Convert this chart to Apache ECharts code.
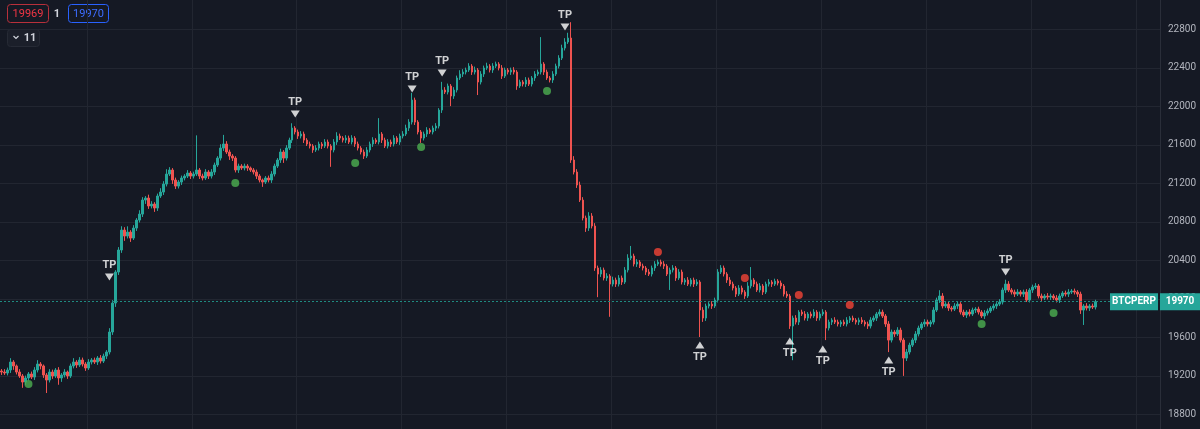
<!DOCTYPE html>
<html>
<head>
<meta charset="utf-8">
<title>BTCPERP</title>
<script src="https://cdn.jsdelivr.net/npm/echarts@6.0.0/dist/echarts.min.js"></script>
<style>
  html, body { margin: 0; padding: 0; background: #151924; }
  #chart { width: 1200px; height: 429px; }
</style>
</head>
<body>
<div id="chart"></div>
<script>
// candle closes, left to right (open = previous close)
const firstOpen = 19250
const closes = [
  19239,19229,19260,19343,19302,19239,19198,19135,19177,19219,
  19187,19260,19322,19302,19208,19156,19239,19198,19260,19177,
  19208,19239,19198,19302,19343,19312,19364,19322,19281,19343,
  19364,19343,19385,19353,19405,19447,19655,19956,20278,20507,
  20714,20652,20693,20631,20735,20818,20880,21026,21047,20964,
  20984,20943,21068,21109,21192,21296,21338,21234,21171,21213,
  21255,21275,21307,21275,21296,21338,21275,21255,21317,21275,
  21317,21390,21462,21566,21608,21525,21483,21462,21338,21379,
  21359,21379,21359,21338,21317,21275,21234,21213,21255,21234,
  21296,21379,21442,21525,21462,21566,21649,21774,21733,21691,
  21712,21649,21608,21587,21546,21566,21608,21587,21629,21587,
  21546,21629,21691,21670,21649,21670,21629,21670,21608,21566,
  21525,21483,21546,21608,21649,21629,21712,21649,21587,21629,
  21608,21670,21629,21691,21712,21774,21836,22065,21836,21733,
  21670,21712,21753,21733,21774,21795,21961,22169,22148,22211,
  22107,22169,22294,22335,22356,22377,22418,22356,22377,22252,
  22335,22398,22418,22377,22418,22439,22398,22314,22377,22356,
  22377,22356,22211,22252,22231,22273,22231,22294,22335,22356,
  22439,22356,22294,22273,22335,22418,22501,22605,22668,22709,
  21442,21317,21182,21026,20839,20735,20860,20756,20320,20257,
  20299,20216,20236,20153,20195,20153,20216,20174,20299,20423,
  20444,20361,20382,20340,20320,20278,20257,20320,20361,20382,
  20361,20340,20257,20299,20320,20216,20278,20174,20195,20153,
  20195,20153,20174,19883,19800,19925,19945,19925,19987,20278,
  20320,20257,20195,20153,20112,20049,20112,20070,20029,20133,
  20195,20153,20091,20133,20070,20153,20174,20153,20184,20164,
  20133,20049,20029,19717,19800,19758,19862,19842,19800,19842,
  19821,19862,19800,19842,19862,19696,19758,19779,19758,19738,
  19758,19738,19779,19800,19779,19758,19779,19758,19738,19717,
  19779,19800,19842,19862,19821,19738,19571,19655,19634,19675,
  19571,19384,19447,19519,19571,19634,19696,19738,19758,19738,
  19758,19883,19987,20029,19925,19945,19904,19893,19925,19945,
  19862,19831,19862,19842,19883,19893,19862,19821,19852,19873,
  19904,19925,19945,19966,20091,20153,20091,20070,20049,20070,
  20049,20070,19987,20091,20122,20133,20029,20008,20029,20018,
  20029,20008,19987,20029,20060,20049,20070,20081,20070,20049,
  19883,19925,19904,19925,19914,19970
]
// wick length above / below the body
const wickUp = [
  20,30,25,40,20,15,30,20,25,20,
  25,30,40,20,15,20,30,25,20,30,
  20,30,15,25,40,20,30,25,20,30,
  20,25,20,30,25,20,40,30,20,30,
  40,30,60,20,30,20,40,30,20,35,
  30,20,25,40,30,50,30,20,25,20,
  25,20,30,20,25,360,20,25,30,20,
  30,25,20,40,95,30,25,20,20,25,
  20,25,20,15,20,25,20,15,20,25,
  30,25,20,35,20,30,25,50,20,25,
  30,25,20,25,20,30,25,20,30,25,
  20,30,40,25,20,30,25,30,20,25,
  20,25,30,25,30,20,165,20,25,30,
  25,30,20,25,30,35,30,75,25,20,
  20,25,30,20,25,30,20,85,30,25,
  20,30,25,40,30,25,30,20,35,20,
  30,25,35,20,30,25,20,30,25,20,
  25,30,20,25,20,30,25,20,30,25,
  280,20,25,20,30,25,30,35,40,55,
  165,40,30,35,30,25,40,30,30,25,
  30,25,30,20,35,25,30,25,30,40,
  105,25,30,20,25,20,30,25,30,25,
  25,30,20,25,30,20,30,25,20,30,
  20,25,30,20,30,25,20,30,25,30,
  30,25,20,30,25,20,30,25,20,40,
  135,20,25,30,20,25,30,20,25,20,
  25,20,30,20,25,30,20,25,30,20,
  25,30,20,25,30,20,25,20,30,25,
  20,25,30,20,25,20,25,30,20,25,
  30,25,20,30,25,20,30,25,20,30,
  25,20,30,25,20,30,25,20,30,25,
  20,30,25,60,30,20,25,20,30,25,
  20,25,20,30,25,20,25,20,30,25,
  20,25,20,30,25,45,30,20,25,30,
  20,25,30,20,25,30,20,25,20,30,
  25,20,30,25,20,25,30,20,25,20,
  25,20,30,20,25,20
]
const wickDown = [
  30,20,25,30,40,25,20,60,30,25,
  20,30,25,35,30,135,25,30,20,70,
  40,25,30,20,25,30,20,25,30,20,
  25,20,30,25,20,30,25,30,40,30,
  30,50,25,40,20,30,25,30,40,30,
  25,40,30,20,30,25,20,40,30,25,
  30,25,20,30,25,20,30,25,20,30,
  25,30,20,25,30,20,40,30,25,30,
  20,25,30,20,25,30,25,50,20,25,
  30,25,20,30,50,25,20,30,25,30,
  25,30,20,25,30,20,25,30,20,25,
  175,25,30,20,25,30,20,25,30,25,
  25,30,20,25,30,20,25,30,20,25,
  30,25,20,30,25,20,30,25,30,25,
  50,25,30,20,25,30,25,30,20,25,
  105,30,25,20,30,25,20,30,25,135,
  25,30,20,25,30,20,25,30,20,25,
  30,25,40,20,25,30,20,25,30,20,
  25,30,20,25,30,20,25,20,25,20,
  30,25,30,20,25,40,30,25,30,240,
  30,25,30,340,25,30,25,30,20,25,
  20,25,30,20,25,30,20,25,30,20,
  25,30,20,165,25,30,20,25,30,20,
  25,30,20,280,40,30,25,30,20,25,
  20,25,30,20,25,30,20,25,30,20,
  25,30,20,25,30,20,25,30,20,25,
  30,25,20,30,355,25,30,20,25,30,
  25,20,30,25,20,125,25,30,20,25,
  30,20,25,30,20,25,30,20,25,30,
  25,20,30,25,20,30,125,25,30,20,
  25,185,30,25,20,30,25,20,30,25,
  30,25,20,30,25,20,30,25,20,30,
  25,20,30,25,20,30,25,20,30,25,
  20,25,30,20,25,30,20,25,30,20,
  25,30,20,25,30,20,25,30,20,25,
  30,20,25,30,20,25,30,20,25,30,
  40,155,25,30,20,25
]
// signal markers: [candle index, price]
const tpAbove = [[36, 20226], [98, 21920], [137, 22180], [147, 22346], [188, 22824], [335, 20278]]
const tpBelow = [[233, 19519], [263, 19561], [274, 19478], [296, 19363]]
const greenDots = [[9, 19115], [78, 21203], [118, 21411], [140, 21577], [182, 22159], [327, 19738], [351, 19852]]
const redDots = [[219, 20486], [248, 20216], [266, 20039], [283, 19935]]
const lastPrice = 19970
const symbolName = 'BTCPERP'
const slotCount = 387

const slots = []
for (let i = 0; i < slotCount; i++) slots.push(String(i))

const candles = closes.map((c, i) => {
  const o = i === 0 ? firstOpen : closes[i - 1]
  return [o, c, Math.min(o, c) - wickDown[i], Math.max(o, c) + wickUp[i]]
})

const up = '#26a69a'
const down = '#ef5350'
const gridColor = '#222631'
const font = 'Roboto, "Liberation Sans", sans-serif'

const chart = echarts.init(document.getElementById('chart'))
chart.setOption({
  backgroundColor: '#151924',
  animation: false,
  grid: { left: 0, right: 40, top: -9.2, bottom: -23.8, containLabel: false, outerBoundsMode: 'none' },
  xAxis: {
    type: 'category',
    data: slots,
    boundaryGap: true,
    axisLine: { show: false },
    axisTick: { show: false },
    axisLabel: { show: false },
    splitLine: {
      show: true,
      interval: (index) => index >= 29 && (index - 29) % 35 === 0,
      lineStyle: { color: gridColor, width: 1 }
    }
  },
  yAxis: {
    type: 'value',
    position: 'right',
    min: 18400,
    max: 23200,
    interval: 400,
    axisLine: { show: true, lineStyle: { color: '#2a2e39' } },
    axisTick: { show: false },
    axisLabel: { color: '#b2b5be', fontSize: 10, fontFamily: font, margin: 8, formatter: (v) => String(v) },
    splitLine: { lineStyle: { color: gridColor, width: 1 } }
  },
  series: [
    {
      type: 'candlestick',
      data: candles,
      barWidth: 2,
      itemStyle: {
        color: up, color0: down,
        borderColor: up, borderColor0: down,
        borderWidth: 1
      },
      markLine: {
        silent: true,
        symbol: ['none', 'none'],
        lineStyle: { color: '#1f8a80', type: [2, 2], width: 1, opacity: 1 },
        label: {
          show: true,
          position: 'end',
          distance: 0,
          offset: [-50, 0],
          formatter: '{n|' + symbolName + '}{g|}{v|' + lastPrice + '}',
          rich: {
            n: { backgroundColor: up, color: '#ffffff', fontSize: 10, fontFamily: font, fontWeight: 'bold', width: 48, height: 17, align: 'center' },
            g: { width: 2, height: 17 },
            v: { backgroundColor: up, color: '#ffffff', fontSize: 10, fontFamily: font, fontWeight: 'bold', width: 40, height: 17, align: 'center' }
          }
        },
        data: [{ yAxis: lastPrice, lineStyle: { color: '#1f8a80', type: [2, 2], width: 1 } }]
      }
    },
    {
      type: 'scatter',
      data: tpAbove,
      symbol: 'triangle',
      symbolRotate: 180,
      symbolSize: [9, 7],
      itemStyle: { color: '#ffffff' },
      label: { show: true, formatter: 'TP', position: 'top', distance: 3, color: '#ffffff', fontSize: 11, fontWeight: 'bold', fontFamily: font },
      z: 5
    },
    {
      type: 'scatter',
      data: tpBelow,
      symbol: 'triangle',
      symbolSize: [9, 7],
      itemStyle: { color: '#ffffff' },
      label: { show: true, formatter: 'TP', position: 'bottom', distance: 3, color: '#ffffff', fontSize: 11, fontWeight: 'bold', fontFamily: font },
      z: 5
    },
    {
      type: 'scatter',
      data: greenDots,
      symbolSize: 8,
      itemStyle: { color: '#4caf50' },
      z: 5
    },
    {
      type: 'scatter',
      data: redDots,
      symbolSize: 8,
      itemStyle: { color: '#f44336' },
      z: 5
    }
  ],
  graphic: [
    { type: 'rect', shape: { x: 7.5, y: 4.5, width: 41, height: 18, r: 3 }, style: { fill: 'transparent', stroke: '#b8303b', lineWidth: 1 } },
    { type: 'text', style: { x: 28, y: 14, text: '19969', fill: '#f23645', font: '11px ' + font, align: 'center', verticalAlign: 'middle' } },
    { type: 'text', style: { x: 57, y: 14, text: '1', fill: '#d1d4dc', font: 'bold 11px ' + font, align: 'center', verticalAlign: 'middle' } },
    { type: 'rect', shape: { x: 68.5, y: 4.5, width: 40, height: 18, r: 3 }, style: { fill: 'transparent', stroke: '#2962ff', lineWidth: 1 } },
    { type: 'text', style: { x: 88.5, y: 14, text: '19970', fill: '#3d6dff', font: '11px ' + font, align: 'center', verticalAlign: 'middle' } },
    { type: 'rect', shape: { x: 7.5, y: 29.5, width: 32, height: 17, r: 3 }, style: { fill: '#1b1f2a', stroke: '#262a35', lineWidth: 1 } },
    { type: 'polyline', shape: { points: [[13.5, 36], [16, 38.5], [18.5, 36]] }, style: { stroke: '#d1d4dc', lineWidth: 1.2, fill: null } },
    { type: 'text', style: { x: 30, y: 38, text: '11', fill: '#d1d4dc', font: 'bold 11px ' + font, align: 'center', verticalAlign: 'middle' } }
  ]
})
</script>
</body>
</html>
